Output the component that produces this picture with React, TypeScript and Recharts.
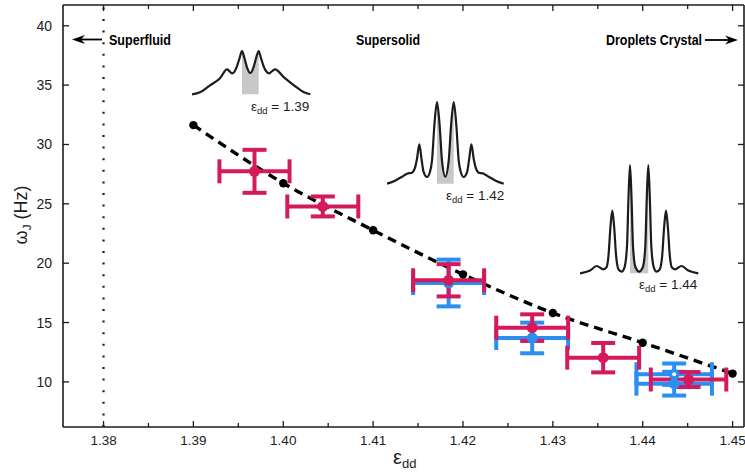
import React from 'react';
import { ComposedChart, Line, Scatter, Area, XAxis, YAxis, ErrorBar, ReferenceLine } from 'recharts';

const FONT = '"Liberation Sans", Arial, Helvetica, sans-serif';
const INK = '#1c1c1c';
const RED = '#d41a5c';
const BLUE = '#2a8ff0';
const SHADE = '#c8c8c8';

// axis ticks
const xTicks = [1.38, 1.385, 1.39, 1.395, 1.4, 1.405, 1.41, 1.415, 1.42, 1.425, 1.43, 1.435, 1.44, 1.445, 1.45];
const yTicks = [10, 15, 20, 25, 30, 35, 40];

// numerical curve (black dots, dashed)
const theoryEps = [1.39, 1.4, 1.41, 1.42, 1.43, 1.44, 1.45];
const theoryOmega = [31.63, 26.74, 22.78, 19.06, 15.8, 13.3, 10.7];

// experiment, red set
const redEps = [1.3968, 1.4044, 1.4184, 1.4277, 1.4356, 1.4451];
const redOmega = [27.74, 24.78, 18.56, 14.57, 12.04, 10.2];
const redEpsErr = [0.0039, 0.00395, 0.00395, 0.004, 0.004, 0.0042];
const redOmegaErr = [1.81, 0.84, 1.36, 1.12, 1.24, 0.63];

// experiment, blue set
const blueEps = [1.4184, 1.4277, 1.4435];
const blueOmega = [18.33, 13.7, 9.85];
const blueEpsErr = [0.00395, 0.004, 0.0042];
const blueOmegaErr = [1.97, 1.29, 1.0];

// blue open marker
const blueOpenEps = [1.4435];
const blueOpenOmega = [10.65];
const blueOpenEpsErr = [0.0042];
const blueOpenOmegaErr = [0.9];

// density profiles for the insets (position, height)
const prof139Pos = [0, 8, 18, 28, 35, 40, 45, 47.5, 50, 52.5, 55, 58.3, 61.5, 64, 66.7, 69, 72, 77, 83, 92, 102, 112, 118.3];
const prof139 = [0, 2, 9, 16, 25, 21, 28, 36, 43.3, 36, 27, 21.3, 27, 36, 43.3, 36, 27, 21, 25, 17, 9, 2, 0];

const prof142Pos = [0, 8, 15, 20, 25, 28, 30, 32.3, 34.6, 36.5, 40, 43, 45, 47.5, 50, 52.5, 55, 58.3, 61.7, 64.2, 66.7, 69.2, 71.7, 73.7, 76.7, 80.2, 82.1, 84.4, 86.7, 88.7, 91.7, 96.7, 101.7, 108.7, 116.7];
const prof142 = [0, 3, 7, 10, 11, 16, 25, 39.3, 24, 12, 6.7, 12, 23, 60, 81.7, 60, 23, 7, 23, 60, 81.7, 60, 23, 12, 6.7, 12, 24, 39.3, 25, 16, 11, 10, 7, 3, 0];

const prof144Pos = [0, 10, 16.7, 23.3, 26.5, 28.5, 30.5, 32.3, 34.1, 36.1, 38.5, 41.7, 44.5, 47, 48.5, 50, 51.5, 53, 55.5, 59.15, 62.8, 65.3, 66.8, 68.3, 69.8, 71.3, 73.8, 76.6, 79.8, 82.2, 84.2, 86, 87.8, 89.8, 91.8, 95, 101.6, 108.3, 118.3];
const prof144 = [0, 2.7, 7.3, 4, 6, 17.7, 47, 62.7, 47, 17.7, 4, 1.7, 6, 27, 76, 108.3, 76, 27, 6, 1.7, 6, 27, 76, 108.3, 76, 27, 6, 1.7, 4, 17.7, 47, 62.7, 47, 17.7, 6, 4, 7.3, 2.7, 0];

const X_MIN = 1.37549;
const X_MAX = 1.45127;
const Y_MIN = 6.2;
const Y_MAX = 41.75;

const theory = theoryEps.map((x, i) => ({ x, y: theoryOmega[i] }));
const toPoints = (xs: number[], ys: number[], exs: number[], eys: number[]) =>
  xs.map((x, i) => ({ x, y: ys[i], ex: exs[i], ey: eys[i] }));
const red = toPoints(redEps, redOmega, redEpsErr, redOmegaErr);
const blue = toPoints(blueEps, blueOmega, blueEpsErr, blueOmegaErr);
const blueOpen = toPoints(blueOpenEps, blueOpenOmega, blueOpenEpsErr, blueOpenOmegaErr);

const isMajor = (v: number) => Math.round(v * 1000) % 10 === 0;

const BottomTick = (props: any) => {
  const { x, y, payload } = props;
  const v = payload.value;
  const major = isMajor(v);
  return (
    <g>
      <line x1={x} x2={x} y1={y} y2={y - (major ? 6 : 4)} stroke={INK} strokeWidth={1.3} />
      {major && (
        <text x={x} y={y + 18} textAnchor="middle" fontSize={13.5} fill={INK} fontFamily={FONT}>
          {v.toFixed(2)}
        </text>
      )}
    </g>
  );
};

const TopTick = (props: any) => {
  const { x, y, payload } = props;
  const major = isMajor(payload.value);
  return <line x1={x} x2={x} y1={y} y2={y + (major ? 6 : 4)} stroke={INK} strokeWidth={1.3} />;
};

const LeftTick = (props: any) => {
  const { x, y, payload } = props;
  return (
    <g>
      <line x1={x} x2={x + 6} y1={y} y2={y} stroke={INK} strokeWidth={1.3} />
      <text x={x - 11} y={y + 5} textAnchor="end" fontSize={14} fill={INK} fontFamily={FONT}>
        {payload.value}
      </text>
    </g>
  );
};

const RightTick = (props: any) => {
  const { x, y } = props;
  return <line x1={x} x2={x - 6} y1={y} y2={y} stroke={INK} strokeWidth={1.3} />;
};

const dotShape = (color: string, r: number) => (p: any) => <circle cx={p.cx} cy={p.cy} r={r} fill={color} />;
const openShape = (p: any) => (
  <g>
    <circle cx={p.cx} cy={p.cy} r={5.5} fill={BLUE} />
    <circle cx={p.cx} cy={p.cy} r={2} fill="#fff" />
  </g>
);

const frame = { stroke: INK, strokeWidth: 1.6 };

function Profile({ left, baseline, pos, h, shadeFrom, shadeTo }: any) {
  const maxH = Math.max(...h);
  const data = pos.map((p: number, i: number) => ({
    pos: p,
    h: h[i],
    shade: p >= shadeFrom - 1e-9 && p <= shadeTo + 1e-9 ? h[i] : null,
  }));
  return (
    <div style={{ position: 'absolute', left, top: baseline - maxH - 3 }}>
      <ComposedChart width={122} height={maxH + 6} margin={{ top: 3, right: 2, bottom: 3, left: 0 }} data={data}>
        <XAxis dataKey="pos" type="number" domain={[0, 120]} hide />
        <YAxis type="number" domain={[0, maxH]} hide />
        <Area dataKey="shade" type="monotone" fill={SHADE} fillOpacity={1} stroke="none" isAnimationActive={false} />
        <Line dataKey="h" type="monotone" stroke={INK} strokeWidth={2.2} dot={false} isAnimationActive={false} />
      </ComposedChart>
    </div>
  );
}

const EpsLabel = ({ x, y, value }: any) => (
  <text x={x} y={y} fontSize={13.5} fill={INK} fontFamily={FONT}>
    ε<tspan dy={3} fontSize={9.5}>dd</tspan>
    <tspan dy={-3}>{` = ${value}`}</tspan>
  </text>
);

export default function App() {
  return (
    <div style={{ position: 'absolute', left: 0, top: 0, width: 745, height: 474, background: '#fff', fontFamily: FONT }}>
      <ComposedChart width={745} height={474} margin={{ top: 0, right: 0, bottom: 0, left: 0 }}>
        <XAxis
          dataKey="x"
          type="number"
          domain={[X_MIN, X_MAX]}
          ticks={xTicks}
          interval={0}
          height={47}
          tickSize={0}
          tickMargin={0}
          tickLine={false}
          axisLine={frame}
          tick={BottomTick}
          allowDataOverflow
        />
        <XAxis
          xAxisId="top"
          orientation="top"
          dataKey="x"
          type="number"
          domain={[X_MIN, X_MAX]}
          ticks={xTicks}
          interval={0}
          height={5}
          tickSize={0}
          tickMargin={0}
          tickLine={false}
          axisLine={frame}
          tick={TopTick}
          allowDataOverflow
        />
        <YAxis
          type="number"
          domain={[Y_MIN, Y_MAX]}
          ticks={yTicks}
          interval={0}
          width={63}
          tickSize={0}
          tickMargin={0}
          tickLine={false}
          axisLine={frame}
          tick={LeftTick}
          allowDataOverflow
        />
        <YAxis
          yAxisId="right"
          orientation="right"
          type="number"
          domain={[Y_MIN, Y_MAX]}
          ticks={yTicks}
          interval={0}
          width={1}
          tickSize={0}
          tickMargin={0}
          tickLine={false}
          axisLine={frame}
          tick={RightTick}
          allowDataOverflow
        />
        <ReferenceLine x={1.38} stroke={INK} strokeWidth={2.2} strokeDasharray="2 9.6" />
        <Line
          data={theory}
          dataKey="y"
          type="monotone"
          stroke="#000"
          strokeWidth={3.4}
          strokeDasharray="9 6"
          dot={{ r: 4.2, fill: '#000', stroke: 'none' }}
          isAnimationActive={false}
        />
        <Scatter data={blue} dataKey="y" fill={BLUE} shape={dotShape(BLUE, 5.5)} isAnimationActive={false}>
          <ErrorBar dataKey="ex" direction="x" width={12} stroke={BLUE} strokeWidth={4} />
          <ErrorBar dataKey="ey" direction="y" width={12} stroke={BLUE} strokeWidth={4} />
        </Scatter>
        <Scatter data={blueOpen} dataKey="y" fill={BLUE} shape={openShape} isAnimationActive={false}>
          <ErrorBar dataKey="ex" direction="x" width={12} stroke={BLUE} strokeWidth={4} />
          <ErrorBar dataKey="ey" direction="y" width={12} stroke={BLUE} strokeWidth={4} />
        </Scatter>
        <Scatter data={red} dataKey="y" fill={RED} shape={dotShape(RED, 5.5)} isAnimationActive={false}>
          <ErrorBar dataKey="ex" direction="x" width={12} stroke={RED} strokeWidth={4} />
          <ErrorBar dataKey="ey" direction="y" width={12} stroke={RED} strokeWidth={4} />
        </Scatter>
      </ComposedChart>

      <Profile left={192} baseline={94} pos={prof139Pos} h={prof139} shadeFrom={50} shadeTo={66.7} />
      <Profile left={387} baseline={183.3} pos={prof142Pos} h={prof142} shadeFrom={50} shadeTo={66.7} />
      <Profile left={580} baseline={273.3} pos={prof144Pos} h={prof144} shadeFrom={50} shadeTo={68.3} />

      <svg width={745} height={474} style={{ position: 'absolute', left: 0, top: 0, pointerEvents: 'none' }}>
        <text x={109} y={45} fontSize={15} fontWeight="bold" fill="#000" textLength={62} lengthAdjust="spacingAndGlyphs">
          Superfluid
        </text>
        <text x={356} y={45} fontSize={15} fontWeight="bold" fill="#000" textLength={64} lengthAdjust="spacingAndGlyphs">
          Supersolid
        </text>
        <text x={606} y={45} fontSize={15} fontWeight="bold" fill="#000" textLength={96} lengthAdjust="spacingAndGlyphs">
          Droplets Crystal
        </text>
        <line x1={80} x2={102} y1={39.5} y2={39.5} stroke="#000" strokeWidth={1.8} />
        <path d="M72,39.5 L85,35 L81,39.5 L85,44 Z" fill="#000" />
        <line x1={705} x2={730} y1={40} y2={40} stroke="#000" strokeWidth={1.8} />
        <path d="M738,40 L725,35.5 L729,40 L725,44.5 Z" fill="#000" />

        <EpsLabel x={251} y={110.5} value="1.39" />
        <EpsLabel x={446} y={200} value="1.42" />
        <EpsLabel x={639} y={289} value="1.44" />

        <text x={393} y={464} fontSize={20} fill={INK}>
          ε<tspan dy={4} fontSize={13}>dd</tspan>
        </text>
        <text transform="rotate(-90 27 215)" x={27} y={215} textAnchor="middle" fontSize={18} fill={INK}>
          ω<tspan dy={4} fontSize={11.5}>J</tspan>
          <tspan dy={-4}> (Hz)</tspan>
        </text>
      </svg>
    </div>
  );
}
